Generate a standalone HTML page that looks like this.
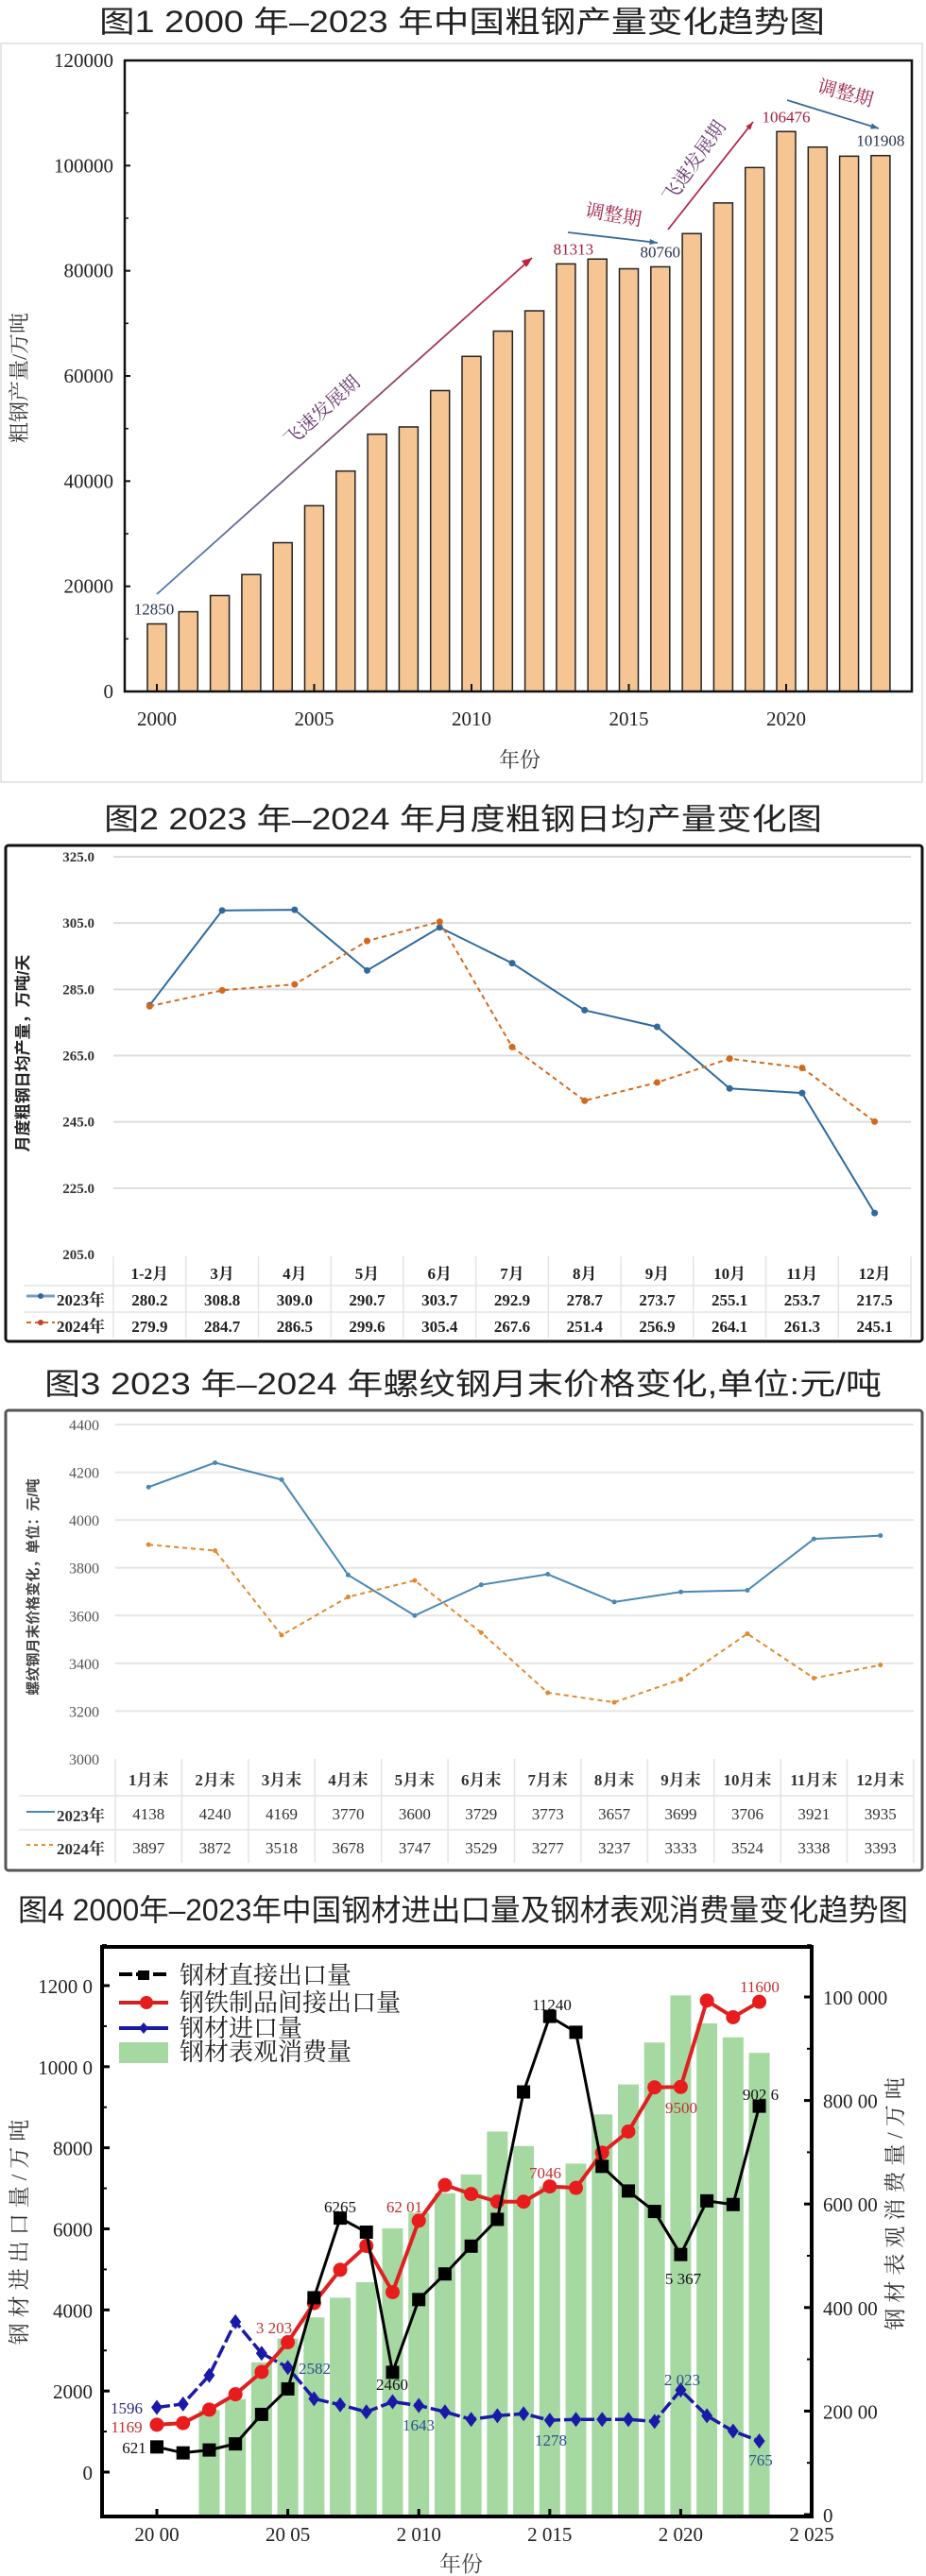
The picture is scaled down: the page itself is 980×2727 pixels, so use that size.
<!DOCTYPE html>
<html><head><meta charset="utf-8">
<style>
html,body{margin:0;padding:0;background:#fff;}
svg{display:block;}
text{font-family:"Liberation Serif","Noto Serif CJK SC",serif;}
.ttl{font-family:"Liberation Sans","Noto Sans CJK SC",sans-serif;font-size:32px;fill:#222;}
</style></head>
<body>
<svg id="page" width="980" height="2727" viewBox="0 0 980 2727" xmlns="http://www.w3.org/2000/svg">
<text class="ttl" x="105" y="34" textLength="768" lengthAdjust="spacingAndGlyphs">图1  2000 年–2023 年中国粗钢产量变化趋势图</text>
<rect x="1" y="46" width="975" height="782" fill="#fff" stroke="#ccc"/>
<g id="fig1"></g>
<text class="ttl" x="110" y="878" textLength="760" lengthAdjust="spacingAndGlyphs">图2  2023 年–2024 年月度粗钢日均产量变化图</text>
<rect x="6" y="895" width="970" height="525" fill="#fff" stroke="#111" stroke-width="3" rx="3"/>
<g id="fig2"></g>
<text class="ttl" x="47" y="1476" textLength="886" lengthAdjust="spacingAndGlyphs">图3  2023 年–2024 年螺纹钢月末价格变化,单位:元/吨</text>
<rect x="6" y="1493" width="970" height="487" fill="#fff" stroke="#555" stroke-width="3" rx="3"/>
<g id="fig3"></g>
<text class="ttl" x="19" y="2033" textLength="942" lengthAdjust="spacingAndGlyphs">图4  2000年–2023年中国钢材进出口量及钢材表观消费量变化趋势图</text>
<g id="fig4"></g>
</svg>
<script>
var NS="http://www.w3.org/2000/svg";
function mk(p,tag,a,txt){var e=document.createElementNS(NS,tag);for(var k in a)e.setAttribute(k,a[k]);if(txt!==undefined)e.textContent=txt;p.appendChild(e);return e;}

var f1Years=[2000,2001,2002,2003,2004,2005,2006,2007,2008,2009,2010,2011,2012,2013,2014,2015,2016,2017,2018,2019,2020,2021,2022,2023];
var f1Values=[12850,15163,18237,22234,28291,35324,41915,48929,50306,57218,63723,68528,72388,81313,82231,80383,80760,87074,92904,99634,106476,103524,101796,101908];
var f1YTicks=[0,20000,40000,60000,80000,100000,120000];
var f1XTicks=[2000,2005,2010,2015,2020];
var f1Labels=[[2000,12850,"12850"],[2013,81313,"81313"],[2016,80760,"80760"],[2020,106476,"106476"],[2023,101908,"101908"]];

(function(){
var g=document.getElementById('fig1');
var L=132,R=965,T=64,B=732;
function x(yr){return 166+(yr-2000)*33.3;}
function y(v){return B-(v/120000)*(B-T);}
var d=mk(g,'defs',{});
var lg=mk(d,'linearGradient',{id:'g1',x1:'0',y1:'1',x2:'1',y2:'0'});
mk(lg,'stop',{offset:'0','stop-color':'#4a7ab0'});mk(lg,'stop',{offset:'1','stop-color':'#c0203a'});
f1Values.forEach(function(v,i){
 var b=mk(g,'rect',{x:x(f1Years[i])-10,y:y(v),width:20,height:B-y(v),fill:'#f5c593',stroke:'#222','stroke-width':1.5});
 
 
});
mk(g,'path',{d:'M'+L+' '+T+' H'+R+' V'+B+' H'+L+' Z',fill:'none',stroke:'#111','stroke-width':2.5});
f1YTicks.forEach(function(t){
 mk(g,'line',{x1:L,y1:y(t),x2:L+6,y2:y(t),stroke:'#111','stroke-width':2});
 var e=mk(g,'text',{x:L-12,y:y(t)+7,'text-anchor':'end','font-size':21,fill:'#222'},String(t));
 
 
 if(t<120000)mk(g,'line',{x1:L,y1:y(t+10000),x2:L+4,y2:y(t+10000),stroke:'#111','stroke-width':1.5});
});
f1XTicks.forEach(function(t){
 mk(g,'line',{x1:x(t),y1:B,x2:x(t),y2:B-8,stroke:'#111','stroke-width':2});
 var e=mk(g,'text',{x:x(t),y:B+36,'text-anchor':'middle','font-size':21,fill:'#222'},String(t));
 
 
});
var e=mk(g,'text',{x:550,y:812,'text-anchor':'middle','font-size':22,fill:'#333'},'年份');

e=mk(g,'text',{x:0,y:0,'text-anchor':'middle','font-size':22,fill:'#333',transform:'translate(28,400) rotate(-90)'},'粗钢产量/万吨');

f1Labels.forEach(function(l){
 var t=mk(g,'text',{x:x(l[0])-(l[0]==2000?3:0)+(l[0]==2013?8:0),y:y(l[1])-10,'text-anchor':'middle','font-size':17,fill:(l[0]==2013||l[0]==2020)?'#a02040':'#2a3050'},l[2]);
 
 
});
function arrow(x1,y1,x2,y2,col){mk(g,'line',{x1:x1,y1:y1,x2:x2,y2:y2,stroke:col,'stroke-width':1.8});
 var a=Math.atan2(y2-y1,x2-x1),s=9;
 mk(g,'polygon',{points:x2+','+y2+' '+(x2-s*Math.cos(a-0.35))+','+(y2-s*Math.sin(a-0.35))+' '+(x2-s*Math.cos(a+0.35))+','+(y2-s*Math.sin(a+0.35)),fill:col});}
arrow(166,629,563,273,'url(#g1)');mk(g,'polygon',{points:'563,273 552,276 557,283',fill:'#c0203a'});
arrow(601,246,696,257,'#3a6a9a');
arrow(707,243,797,129,'#b02848');
arrow(833,106,930,136,'#3a6a9a');
function rt(txt,cx,cy,ang,col,name){var t=mk(g,'text',{x:0,y:0,'text-anchor':'middle','font-size':20,fill:col,transform:'translate('+cx+','+cy+') rotate('+ang+')'},txt);}
rt('飞速发展期',345,440,-42,'#6a3a70','annotation-rapid-1');
rt('调整期',648,234,10,'#a02848','annotation-adjust-1');
rt('飞速发展期',740,175,-55,'#6a3a70','annotation-rapid-2');
rt('调整期',893,105,15,'#a02848','annotation-adjust-2');
})();

var f2Months=["1-2月","3月","4月","5月","6月","7月","8月","9月","10月","11月","12月"];
var f2Y2023=[280.2,308.8,309.0,290.7,303.7,292.9,278.7,273.7,255.1,253.7,217.5];
var f2Y2024=[279.9,284.7,286.5,299.6,305.4,267.6,251.4,256.9,264.1,261.3,245.1];
var f2YTicks=[205,225,245,265,285,305,325];

(function(){
var g=document.getElementById('fig2');
var L=120,R=964,T=907,B=1328,cw=(R-L)/11;
function x(i){return L+cw*(i+0.5);}
function y(v){return B-(v-205)/120*(B-T);}
f2YTicks.forEach(function(t){
 if(t>205)mk(g,'line',{x1:L,y1:y(t),x2:R,y2:y(t),stroke:'#ddd','stroke-width':2});
 var e=mk(g,'text',{x:100,y:y(t)+5,'text-anchor':'end','font-size':15,'font-weight':'bold',fill:'#333'},t.toFixed(1));
 
});
var e=mk(g,'text',{x:0,y:0,'text-anchor':'middle','font-size':17,'font-weight':'bold',fill:'#222',transform:'translate(30,1115) rotate(-90)',style:'font-family:"Liberation Sans","Noto Sans CJK SC",sans-serif'},'月度粗钢日均产量，万吨/天');

function series(vals,col,dash,name){
 var p=vals.map(function(v,i){return (i?'L':'M')+x(i)+' '+y(v);}).join(' ');
 var l=mk(g,'path',{d:p,fill:'none',stroke:col,'stroke-width':2,'stroke-dasharray':dash});
 
 vals.forEach(function(v,i){var c=mk(g,'circle',{cx:x(i),cy:y(v),r:3.5,fill:col});
  });
}
series(f2Y2023,'#2e6a9e','none','series-2023');
series(f2Y2024,'#d2691e','5,4','series-2024');
mk(g,'rect',{x:L,y:1328,width:R-L,height:33,fill:'#fff'});
mk(g,'line',{x1:25,y1:1361,x2:R,y2:1361,stroke:'#e4e4e4','stroke-width':1.5});
mk(g,'line',{x1:25,y1:1389,x2:R,y2:1389,stroke:'#e4e4e4','stroke-width':1.5});
for(var i=0;i<=11;i++)mk(g,'line',{x1:L+cw*i,y1:1330,x2:L+cw*i,y2:1416,stroke:'#e4e4e4','stroke-width':1.5});
f2Months.forEach(function(m,i){
 var t=mk(g,'text',{x:x(i),y:1354,'text-anchor':'middle','font-size':17,'font-weight':'bold',fill:'#222'},m);
 
 t=mk(g,'text',{x:x(i),y:1382,'text-anchor':'middle','font-size':17,'font-weight':'bold',fill:'#222'},f2Y2023[i].toFixed(1));
 
 t=mk(g,'text',{x:x(i),y:1410,'text-anchor':'middle','font-size':17,'font-weight':'bold',fill:'#222'},f2Y2024[i].toFixed(1));
 
});
mk(g,'line',{x1:28,y1:1372,x2:58,y2:1372,stroke:'#7a9ec0','stroke-width':3});mk(g,'circle',{cx:43,cy:1372,r:3,fill:'#2e6a9e'});
mk(g,'line',{x1:28,y1:1400,x2:58,y2:1400,stroke:'#d2691e','stroke-width':2,'stroke-dasharray':'5,4'});mk(g,'circle',{cx:43,cy:1400,r:3,fill:'#c0402a'});
e=mk(g,'text',{x:60,y:1382,'font-size':17,'font-weight':'bold',fill:'#222'},'2023年');
e=mk(g,'text',{x:60,y:1410,'font-size':17,'font-weight':'bold',fill:'#222'},'2024年');
})();

var f3Months=["1月末","2月末","3月末","4月末","5月末","6月末","7月末","8月末","9月末","10月末","11月末","12月末"];
var f3Y2023=[4138,4240,4169,3770,3600,3729,3773,3657,3699,3706,3921,3935];
var f3Y2024=[3897,3872,3518,3678,3747,3529,3277,3237,3333,3524,3338,3393];
var f3YTicks=[3000,3200,3400,3600,3800,4000,4200,4400];

(function(){
var g=document.getElementById('fig3');
var L=122,R=967,T=1508,B=1862,cw=(R-L)/12;
function x(i){return L+cw*(i+0.5);}
function y(v){return B-(v-3000)/1400*(B-T);}
f3YTicks.forEach(function(t){
 if(t>3000)mk(g,'line',{x1:L,y1:y(t),x2:R,y2:y(t),stroke:'#e6e6e6','stroke-width':2});
 var e=mk(g,'text',{x:105,y:y(t)+6,'text-anchor':'end','font-size':16,fill:'#555'},String(t));
 
});
var e=mk(g,'text',{x:0,y:0,'text-anchor':'middle','font-size':15,'font-weight':'bold',fill:'#444',transform:'translate(40,1680) rotate(-90)',style:'font-family:"Liberation Sans","Noto Sans CJK SC",sans-serif'},'螺纹钢月末价格变化，单位：元/吨');

function series(vals,col,dash,name){
 var p=vals.map(function(v,i){return (i?'L':'M')+x(i)+' '+y(v);}).join(' ');
 var l=mk(g,'path',{d:p,fill:'none',stroke:col,'stroke-width':2,'stroke-dasharray':dash});
 
 vals.forEach(function(v,i){var c=mk(g,'circle',{cx:x(i),cy:y(v),r:2.5,fill:col});
  });
}
series(f3Y2023,'#4a88b4','none','series-2023');
series(f3Y2024,'#e08a30','5,4','series-2024');
mk(g,'line',{x1:20,y1:1901,x2:R,y2:1901,stroke:'#e4e4e4','stroke-width':1.5});
mk(g,'line',{x1:20,y1:1937,x2:R,y2:1937,stroke:'#e4e4e4','stroke-width':1.5});
for(var i=0;i<=12;i++)mk(g,'line',{x1:L+cw*i,y1:1862,x2:L+cw*i,y2:1972,stroke:'#e4e4e4','stroke-width':1.5});
f3Months.forEach(function(m,i){
 var t=mk(g,'text',{x:x(i),y:1890,'text-anchor':'middle','font-size':17,'font-weight':'bold',fill:'#333'},m);
 
 t=mk(g,'text',{x:x(i),y:1926,'text-anchor':'middle','font-size':17,fill:'#333'},String(f3Y2023[i]));
 
 t=mk(g,'text',{x:x(i),y:1962,'text-anchor':'middle','font-size':17,fill:'#333'},String(f3Y2024[i]));
 
});
mk(g,'line',{x1:28,y1:1918,x2:58,y2:1918,stroke:'#4a88b4','stroke-width':2});
mk(g,'line',{x1:28,y1:1953,x2:58,y2:1953,stroke:'#e08a30','stroke-width':2,'stroke-dasharray':'4,4'});
e=mk(g,'text',{x:60,y:1928,'font-size':17,'font-weight':'bold',fill:'#333'},'2023年');
e=mk(g,'text',{x:60,y:1963,'font-size':17,'font-weight':'bold',fill:'#333'},'2024年');
})();

var f4Years=[2000,2001,2002,2003,2004,2005,2006,2007,2008,2009,2010,2011,2012,2013,2014,2015,2016,2017,2018,2019,2020,2021,2022,2023];
var f4Direct=[621,474,545,696,1423,2052,4301,6265,5918,2460,4256,4888,5573,6234,9378,11240,10849,7541,6934,6429,5367,6690,6600,9026];
var f4Indirect=[1169,1210,1540,1920,2470,3203,4170,4990,5580,4440,6201,7080,6860,6670,6670,7046,7010,7880,8400,9490,9500,11630,11220,11600];
var f4Import=[1596,1680,2385,3707,2930,2582,1810,1660,1485,1735,1643,1485,1300,1390,1440,1278,1300,1300,1300,1250,2023,1390,1010,765];
var f4BarYears=[2002,2003,2004,2005,2006,2007,2008,2009,2010,2011,2012,2013,2014,2015,2016,2017,2018,2019,2020,2021,2022,2023];
var f4Consumption=[20200,22300,29400,34000,38100,41900,44900,55300,58300,62100,65700,74000,71200,63400,67800,77300,83100,91200,100300,94900,92200,89200];
var f4LeftTicks=[0,2000,4000,6000,8000,10000,12000];
var f4LeftLabels=["0","2000","4000","6000","8000","1000 0","1200 0"];
var f4RightTicks=[0,20000,40000,60000,80000,100000];
var f4RightLabels=["0","200 00","400 00","600 00","800 00","100 000"];
var f4XTicks=[2000,2005,2010,2015,2020,2025];
var f4XLabels=["20 00","20 05","2 010","2 015","2 020","2 025"];

(function(){
var g=document.getElementById('fig4');
var L=108,R=859,T=2061,B=2664;
function x(yr){return 166+(yr-2000)*27.72;}
function yl(v){return 2617-v*(2617-2102)/12000;}
function yr(v){return 2662-v*(2662-2114)/100000;}
f4Consumption.forEach(function(v,i){
 var b=mk(g,'rect',{x:x(f4BarYears[i])-11,y:yr(v),width:22,height:B-yr(v),fill:'#a6d9a2'});
 
 
});
function line(vals,col,w,dash,name){
 var p=vals.map(function(v,i){return (i?'L':'M')+x(f4Years[i])+' '+yl(v);}).join(' ');
 var l=mk(g,'path',{d:p,fill:'none',stroke:col,'stroke-width':w,'stroke-dasharray':dash,'stroke-linejoin':'round'});
 
}
line(f4Import,'#1a1aa8',3.5,'14,4','import');
f4Import.forEach(function(v,i){var m=mk(g,'polygon',{points:(x(f4Years[i]))+','+(yl(v)-8)+' '+(x(f4Years[i])+6)+','+yl(v)+' '+(x(f4Years[i]))+','+(yl(v)+8)+' '+(x(f4Years[i])-6)+','+yl(v),fill:'#1a1aa8'});
 });
line(f4Indirect,'#e02020',4,'none','indirect-export');
f4Indirect.forEach(function(v,i){var m=mk(g,'circle',{cx:x(f4Years[i]),cy:yl(v),r:7.5,fill:'#e81c1c'});
 });
line(f4Direct,'#000',3,'none','direct-export');
f4Direct.forEach(function(v,i){var m=mk(g,'rect',{x:x(f4Years[i])-7,y:yl(v)-7,width:14,height:14,fill:'#000'});
 });
mk(g,'rect',{x:L,y:T,width:R-L,height:B-T,fill:'none',stroke:'#000','stroke-width':4});
f4LeftTicks.forEach(function(t,i){
 mk(g,'line',{x1:L,y1:yl(t),x2:L+8,y2:yl(t),stroke:'#000','stroke-width':3});
 mk(g,'line',{x1:L,y1:yl(t+1000),x2:L+5,y2:yl(t+1000),stroke:'#000','stroke-width':2});
 var e=mk(g,'text',{x:L-10,y:yl(t)+8,'text-anchor':'end','font-size':21,fill:'#222'},f4LeftLabels[i]);
 
});
f4RightTicks.forEach(function(t,i){
 mk(g,'line',{x1:R,y1:yr(t),x2:R-8,y2:yr(t),stroke:'#000','stroke-width':3});
 mk(g,'line',{x1:R,y1:yr(t+10000),x2:R-5,y2:yr(t+10000),stroke:'#000','stroke-width':2});
 var e=mk(g,'text',{x:R+12,y:yr(t)+8,'font-size':21,fill:'#222'},f4RightLabels[i]);
 
});
f4XTicks.forEach(function(t,i){
 mk(g,'line',{x1:x(t),y1:B,x2:x(t),y2:B-8,stroke:'#000','stroke-width':3});
 var e=mk(g,'text',{x:x(t),y:B+26,'text-anchor':'middle','font-size':21,fill:'#222'},f4XLabels[i]);
 
});
var e=mk(g,'text',{x:488,y:2722,'text-anchor':'middle','font-size':23,fill:'#444'},'年份');

e=mk(g,'text',{x:0,y:0,'text-anchor':'middle','font-size':23,fill:'#333','letter-spacing':'6',transform:'translate(28,2360) rotate(-90)'},'钢材进出口量/万吨');

e=mk(g,'text',{x:0,y:0,'text-anchor':'middle','font-size':23,fill:'#333','letter-spacing':'6',transform:'translate(955,2330) rotate(-90)'},'钢材表观消费量/万吨');

mk(g,'line',{x1:126,y1:2090,x2:178,y2:2090,stroke:'#000','stroke-width':4,'stroke-dasharray':'14,4'});mk(g,'rect',{x:146,y:2086,width:12,height:10,fill:'#000'});
mk(g,'line',{x1:126,y1:2120,x2:178,y2:2120,stroke:'#d02020','stroke-width':4});mk(g,'circle',{cx:155,cy:2120,r:7,fill:'#e81c1c'});
mk(g,'line',{x1:126,y1:2147,x2:178,y2:2147,stroke:'#1a1aa8','stroke-width':4});mk(g,'polygon',{points:'152,2141 157,2147 152,2153 147,2147',fill:'#1a1aa8'});
mk(g,'rect',{x:126,y:2162,width:52,height:22,fill:'#a6d9a2'});
[['钢材直接出口量',2100],['钢铁制品间接出口量',2129],['钢材进口量',2156],['钢材表观消费量',2181]].forEach(function(r,i){
 var t=mk(g,'text',{x:190,y:r[1],'font-size':26,fill:'#222'},r[0]);
 
});
function lab(txt,xx,yy,col){var t=mk(g,'text',{x:xx,y:yy,'text-anchor':'middle','font-size':17,fill:col},txt);}
lab('1596',134,2555,'#2a2a80');lab('1169',134,2575,'#c03030');lab('621',142,2597,'#111');
lab('3 203',290,2470,'#c03030');lab('2582',333,2513,'#2a5090');lab('6265',360,2342,'#111');
lab('2460',415,2530,'#111');lab('62 01',428,2342,'#c03030');lab('1643',443,2573,'#2a5090');
lab('11240',584,2128,'#111');lab('7046',577,2306,'#c03030');lab('1278',583,2589,'#2a5090');
lab('9500',721,2237,'#c03030');lab('5 367',723,2418,'#111');lab('2 023',722,2525,'#2a5090');
lab('11600',804,2109,'#c03030');lab('902 6',805,2223,'#111');lab('765',805,2610,'#2a5090');
})();
</script>
</body></html>
